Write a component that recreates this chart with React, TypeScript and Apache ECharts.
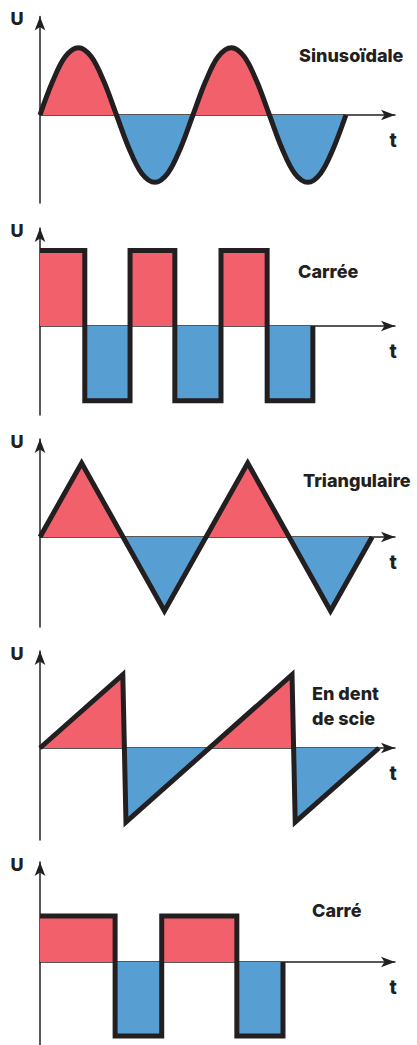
import React, { useEffect, useRef } from "react";
import * as echarts from "echarts";

// ---- data (time units, amplitude units) ----
const sineT = [
  0, 0.28, 0.56, 0.85, 1.13, 1.41, 1.69, 1.97, 2.25, 2.54, 2.82, 3.1, 3.38,
  3.66, 3.94, 4.23, 4.51, 4.79, 5.07, 5.35, 5.63, 5.92, 6.2, 6.48, 6.76,
];
const sineU = [
  0, 0.455, 0.79, 0.91, 0.79, 0.455, 0, -0.455, -0.79, -0.91, -0.79, -0.455, 0,
  0.455, 0.79, 0.91, 0.79, 0.455, 0, -0.455, -0.79, -0.91, -0.79, -0.455, 0,
];

const squareT = [0, 0.99, 0.99, 1.99, 1.99, 2.98, 2.98, 4.0, 4.0, 5.02, 5.02, 6.03, 6.03];
const squareU = [1.02, 1.02, -1.01, -1.01, 1.02, 1.02, -1.01, -1.01, 1.02, 1.02, -1.01, -1.01, 0];

const triT = [0, 0.92, 2.75, 4.59, 6.42, 7.34];
const triU = [0, 1, -1, 1, -1, 0];

const sawT = [0, 1.83, 1.9, 5.57, 5.64, 7.49];
const sawU = [0, 0.99, -1, 0.99, -1, 0];

const pulseT = [0, 1.66, 1.66, 2.69, 2.69, 4.35, 4.35, 5.37, 5.37];
const pulseU = [0.62, 0.62, -1, -1, 0.62, 0.62, -1, -1, 0];

const titles = ["Sinusoïdale", "Carrée", "Triangulaire", "En dent\nde scie", "Carré"];
const yName = "U";
const xName = "t";

const series = [
  { t: sineT, u: sineU, smooth: 0.35 },
  { t: squareT, u: squareU, smooth: false },
  { t: triT, u: triU, smooth: false },
  { t: sawT, u: sawU, smooth: false },
  { t: pulseT, u: pulseU, smooth: false },
];

// ---- layout ----
const panels = [
  { tip: 9.5, bottom: 203, zero: 115, titleX: 299, titleY: 55 },
  { tip: 221, bottom: 415, zero: 326, titleX: 298, titleY: 271 },
  { tip: 432, bottom: 627, zero: 537, titleX: 303, titleY: 480 },
  { tip: 644, bottom: 840, zero: 748, titleX: 312, titleY: 705.5 },
  { tip: 855, bottom: 1045, zero: 962, titleX: 312, titleY: 910 },
];
const LEFT = 40;
const ARROW_TIP_X = 402;
const ARROW_LEN = 14;
const PX_X = 45.25;
const PX_Y = 74;
const INK = "#231f20";
const RED = "#f2616b";
const BLUE = "#579ed3";
const FONT = "Inter";

export default function App() {
  const ref = useRef<HTMLDivElement>(null);
  useEffect(() => {
    if (!ref.current) return;
    const chart = echarts.init(ref.current, undefined, { renderer: "svg" });
    const axisWidth = ARROW_TIP_X - ARROW_LEN / 2 - LEFT;
    const xMax = axisWidth / PX_X;
    const grids: any[] = [];
    const xAxes: any[] = [];
    const yAxes: any[] = [];
    const ser: any[] = [];
    const vms: any[] = [];
    const graphics: any[] = [];
    panels.forEach((p, i) => {
      const top = p.tip + ARROW_LEN / 2;
      grids.push({ left: LEFT, width: axisWidth, top, height: p.bottom - top });
      const axisLine = {
        show: true,
        onZero: true,
        symbol: ["none", "arrow"],
        symbolSize: [8, ARROW_LEN],
        lineStyle: { color: INK, width: 1.5 },
      };
      xAxes.push({
        type: "value",
        gridIndex: i,
        min: 0,
        max: xMax,
        axisLine,
        axisTick: { show: false },
        axisLabel: { show: false },
        splitLine: { show: false },
        z: 3,
      });
      yAxes.push({
        type: "value",
        gridIndex: i,
        min: -(p.bottom - p.zero) / PX_Y,
        max: (p.zero - top) / PX_Y,
        axisLine,
        axisTick: { show: false },
        axisLabel: { show: false },
        splitLine: { show: false },
        z: 3,
      });
      const s = series[i];
      ser.push({
        type: "line",
        xAxisIndex: i,
        yAxisIndex: i,
        data: s.t.map((t, k) => [t, s.u[k]]),
        smooth: s.smooth,
        showSymbol: false,
        symbol: "none",
        lineStyle: { color: INK, width: 5, join: "miter", cap: "butt" },
        areaStyle: { opacity: 1, origin: 0 },
        z: 4,
      });
      vms.push({
        type: "piecewise",
        show: false,
        seriesIndex: i,
        dimension: 1,
        pieces: [
          { gte: -10, lt: 0, color: BLUE },
          { gte: 0, lte: 10, color: RED },
        ],
      });
      graphics.push({
        type: "text",
        x: 17,
        y: p.tip + 9,
        style: {
          text: yName,
          font: `800 18px ${FONT}`,
          fill: INK,
          align: "center",
          verticalAlign: "middle",
        },
      });
      graphics.push({
        type: "text",
        x: 393,
        y: p.zero + 25,
        style: {
          text: xName,
          font: `800 19px ${FONT}`,
          fill: INK,
          align: "center",
          verticalAlign: "middle",
        },
      });
      graphics.push({
        type: "text",
        x: p.titleX,
        y: p.titleY,
        style: {
          text: titles[i],
          font: `800 18px ${FONT}`,
          lineHeight: 25,
          fill: INK,
          align: "left",
          verticalAlign: "middle",
        },
      });
    });
    chart.setOption({
      animation: false,
      grid: grids,
      xAxis: xAxes,
      yAxis: yAxes,
      visualMap: vms,
      series: ser,
      graphic: graphics,
    });
    return () => chart.dispose();
  }, []);
  return (
    <div
      ref={ref}
      style={{ position: "fixed", left: 0, top: 0, width: 417, height: 1045, background: "#fff" }}
    />
  );
}
